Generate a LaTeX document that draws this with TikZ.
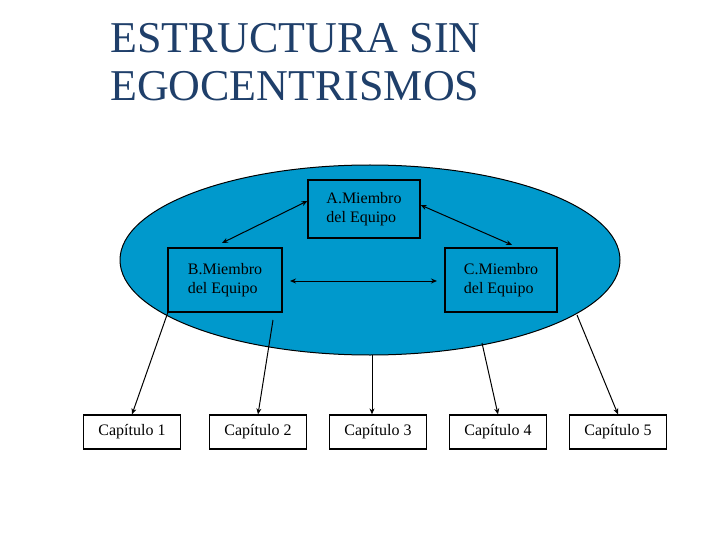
\documentclass[tikz,border=0pt]{standalone}
\usepackage{fontspec}
\setmainfont{Liberation Serif}
\usetikzlibrary{arrows.meta,shapes.geometric}
\definecolor{ttl}{HTML}{1F3F6A}
\definecolor{ell}{HTML}{0099CC}
\begin{document}
\begin{tikzpicture}[x=1pt,y=-1pt,
  mem/.style={draw=black,line width=1.2pt,fill=ell,minimum width=#1,minimum height=60pt,align=left,font=\fontsize{16}{19}\selectfont,inner sep=2pt},
  chapbox/.style={draw=black,line width=1.2pt,fill=white,minimum width=97pt,minimum height=34pt,font=\fontsize{16}{19}\selectfont,inner sep=1pt},
  con/.style={line width=1pt,-{Stealth[length=6pt,width=5pt]}},
  dcon/.style={line width=1pt,{Stealth[length=6pt,width=5pt]}-{Stealth[length=6pt,width=5pt]}}]
\useasboundingbox (0,0) rectangle (720,540);
\node[anchor=north west,align=left,text=ttl,font=\fontsize{44}{48}\selectfont,inner sep=0pt] (t) at (110,23) {ESTRUCTURA SIN\\EGOCENTRISMOS};
\node[draw=black,line width=1pt,fill=ell,ellipse,minimum width=500pt,minimum height=190pt] (e) at (370,260) {};
\node[mem=112pt,minimum height=58pt] (a) at (364,209) {A.Miembro\\del Equipo};
\node[mem=114pt,minimum height=64pt] (b) at (225,280) {B.Miembro\\del Equipo};
\node[mem=112pt,minimum height=64pt] (c) at (501,280) {C.Miembro\\del Equipo};
\node[chapbox] (c1) at (132,432) {Capítulo 1};
\node[chapbox] (c2) at (258,432) {Capítulo 2};
\node[chapbox] (c3) at (378,432) {Capítulo 3};
\node[chapbox] (c4) at (498,432) {Capítulo 4};
\node[chapbox] (c5) at (618,432) {Capítulo 5};
\draw[dcon] (a.west) ++(0,-8) -- (222,243);
\draw[dcon] (a.east) ++(0,-4) -- (512,245);
\draw[dcon] (290,281) -- (437,281);
\coordinate (s1) at (168,312);
\coordinate (s2) at (273,320);
\coordinate (s3) at (372,355);
\coordinate (s4) at (482,343);
\coordinate (s5) at (577,315);
\draw[con] (s1) -- (c1.north);
\draw[con] (s2) -- (c2.north);
\draw[con] (s3) -- (c3.north -| s3);
\draw[con] (s4) -- (c4.north);
\draw[con] (s5) -- (c5.north);
\end{tikzpicture}
\end{document}
